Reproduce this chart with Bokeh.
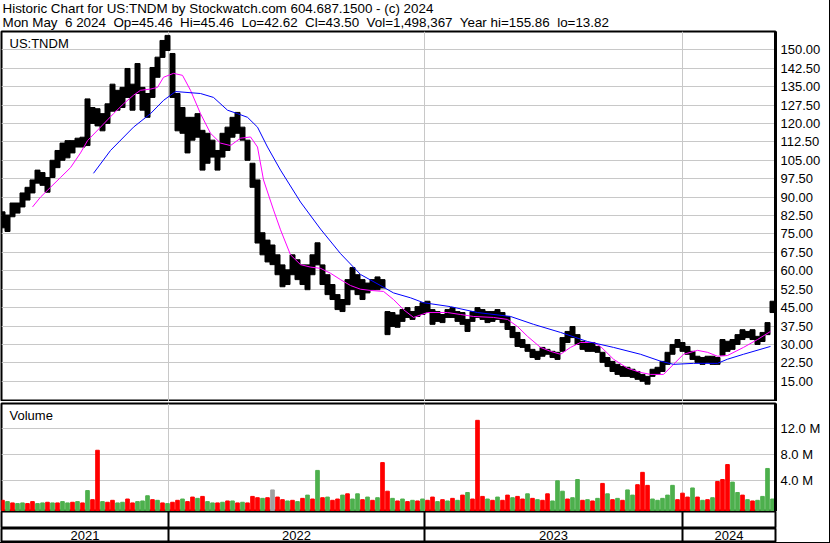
import numpy as np
from bokeh.plotting import figure
from bokeh.layouts import column
from bokeh.models import Range1d, FixedTicker, NumeralTickFormatter, Label, ColumnDataSource, Span
from bokeh.core.properties import value
from bokeh.embed import file_html
from bokeh.resources import INLINE

# ---------------- data ----------------
symbol = "US:TNDM"
header1 = "Historic Chart for US:TNDM by Stockwatch.com 604.687.1500 - (c) 2024"
header2 = "Mon May  6 2024  Op=45.46  Hi=45.46  Lo=42.62  Cl=43.50  Vol=1,498,367  Year hi=155.86  lo=13.82"

years = ["2021", "2022", "2023", "2024"]
year_start = [166, 422, 680]          # trading-day index where 2022, 2023, 2024 begin
first_day = -1                        # left edge of the time axis (trading days)
last_day = 773                        # right edge of the time axis (trading days)
bar_step = 5                          # one bar per trading week

# weekly high / low (USD)
high = [84, 82.7, 87.6, 87.6, 91.7, 94, 97, 101, 100, 98,
        105, 109, 112, 113, 113, 114, 114.4, 130, 126.5, 126,
        124, 128, 136, 133.5, 134.7, 142.4, 136, 144.4, 134.7, 132.2,
        142.8, 147, 153.8, 155.86, 148.5, 132.2, 126.5, 122.5, 122.5, 124,
        117.2, 116, 113.2, 109, 116, 118.5, 122.5, 124.5, 118.5, 113.2,
        103.8, 97, 75.5, 72.5, 70.5, 66.5, 62.4, 60.4, 66.5, 64.5,
        62.4, 62.4, 66.5, 71.4, 62.4, 58.4, 54.4, 50.3, 48.3, 56.4,
        61.3, 58.4, 56.4, 55, 56.4, 57.5, 56.4, 43.4, 43, 42,
        44.2, 45, 43.4, 45.4, 47, 47.6, 44.2, 43.4, 42.2, 44.2,
        45, 43.4, 43, 40.2, 43.4, 45, 44.2, 43.4, 43.4, 44.2,
        43, 41.4, 37.3, 34.9, 32, 30, 28, 27.2, 28.8, 28,
        27.2, 26.8, 32.8, 35.3, 37.3, 34, 31.3, 30.8, 30.8, 29.2,
        26.8, 24.7, 23.1, 21.9, 21, 20.7, 19.9, 19, 17.8, 17,
        19.9, 20.7, 23.1, 26.8, 30, 32, 30.8, 29.2, 27.2, 25.2,
        24.7, 25.2, 25.2, 24.7, 32, 31.3, 32, 34, 36, 35.3,
        36, 33.3, 34.9, 38.9, 47.6]
low = [77.5, 76, 82, 83.5, 86, 88.8, 91.7, 95.7, 94.8, 92,
       98, 102, 105, 106, 108, 110.4, 110.4, 111, 120, 119,
       117, 120, 125, 125.4, 126.5, 130.6, 125.4, 132.2, 125.4, 122.5,
       130.6, 138.8, 146.9, 149.7, 130.6, 117, 116, 108, 113.2, 114.4,
       101, 103.8, 106.3, 101, 106.3, 109, 114.4, 116, 113.2, 105,
       94, 71.3, 66.5, 63.6, 62.5, 58.4, 53.5, 54.4, 58.4, 56.4,
       54.4, 52.3, 58.4, 62.4, 54.4, 50.3, 48.3, 44.2, 43.4, 46.2,
       52.3, 50.3, 48.3, 51, 52.3, 52.3, 53, 34, 37.3, 37,
       39.4, 41, 40.2, 41.4, 42.2, 43, 38.2, 39.4, 38.9, 41,
       41, 39.4, 38.2, 35.3, 39.4, 41, 40.2, 38.9, 39.4, 40.2,
       38.9, 36.1, 32.8, 29.2, 28.8, 27.2, 24.7, 23.9, 25.2, 26,
       24.7, 23.9, 27.2, 30.8, 32.8, 30, 28, 27.2, 27.2, 26.8,
       22.7, 21, 19, 17.8, 17, 17, 16.6, 15.8, 15, 13.82,
       17, 17.8, 19, 21.9, 26, 28.8, 27.2, 26, 23.9, 22.7,
       21.9, 22.7, 21.9, 21.9, 25.6, 27.2, 28, 30, 32, 32.8,
       32, 30, 31.2, 34, 43]

# volume (millions of shares) and direction: r = down, g = up, n = unchanged
volume = [1.0, 0.8, 0.6, 0.5, 0.6, 0.5, 0.8, 0.5, 0.6, 0.7,
          0.6, 0.6, 0.8, 0.6, 0.7, 0.8, 0.6, 2.5, 1.1, 8.7,
          0.8, 0.7, 1.0, 0.6, 0.7, 1.2, 0.6, 0.8, 0.9, 1.7,
          1.1, 1.0, 0.6, 0.5, 0.7, 1.0, 1.2, 0.8, 1.5, 1.3,
          1.6, 0.8, 0.6, 0.6, 0.7, 0.9, 0.9, 0.6, 0.7, 0.6,
          1.6, 1.4, 1.3, 1.4, 2.6, 1.5, 1.1, 0.9, 1.0, 0.8,
          1.3, 1.8, 1.2, 5.6, 1.4, 1.5, 1.0, 1.2, 1.8, 2.0,
          1.2, 2.0, 1.1, 1.5, 1.0, 1.4, 6.8, 2.4, 1.3, 0.9,
          1.2, 0.8, 1.0, 0.9, 1.2, 1.0, 1.5, 0.8, 1.1, 0.9,
          1.3, 1.0, 1.8, 2.2, 1.2, 13.3, 1.6, 1.2, 1.0, 1.5,
          1.0, 1.8, 1.4, 1.6, 1.2, 2.0, 1.3, 1.1, 1.0, 2.0,
          0.9, 4.0, 2.4, 1.2, 1.4, 4.2, 1.0, 1.1, 0.9, 1.3,
          3.6, 2.0, 1.1, 1.3, 1.0, 2.6, 1.8, 3.4, 5.3, 3.3,
          1.2, 1.0, 1.3, 1.8, 3.3, 1.1, 2.1, 1.5, 2.9, 1.5,
          1.0, 1.1, 1.4, 3.9, 4.2, 6.5, 3.8, 2.2, 1.8, 1.1,
          0.9, 1.0, 1.6, 5.9, 1.2]
vol_dir = ("rgrggrrggr" "grggrgrgrr" "grrggrrggg" "rgrgrrgrrg"
           "rggrgrgrgr" "rrgrnrrgrg" "rgrgrgrrgr" "ggrgrgrrgr"
           "grgrgrrgrg" "rgrgrrrgrg" "rrgrrgrgrr" "gggrggrgrg"
           "rgrgrggrrr" "gggggrrrgr" "grgrrrggrg" "rggggr")

# short (magenta) moving average: trading-day index, value
ma_short_day = [30, 38, 48, 58, 68, 78, 85, 98, 111, 121, 131, 138, 148, 155, 161,
                171, 180, 188, 198, 208, 218, 228, 238, 248, 255, 261, 271, 278, 288,
                298, 308, 318, 328, 338, 348, 358, 368, 381, 391, 401, 411, 425, 445,
                458, 471, 491, 505, 515, 525, 538, 548, 558, 568, 578, 591, 598, 611,
                625, 638, 648, 661, 671, 681, 695, 705, 715, 725, 741, 755, 768]
ma_short = [86, 90, 94, 98, 102, 108, 113, 118.5, 124, 128, 131.5, 133.5, 134, 134.7, 138.8,
            140.4, 139.6, 133.5, 124, 116, 112, 111, 114, 114.5, 110.4, 97, 84.8, 76.7, 66.5,
            62.5, 61.5, 61, 59, 56.4, 54, 52.5, 52, 51.6, 48.3, 44.2, 41, 43, 43,
            42.2, 41.4, 41, 40.2, 37.3, 33.3, 28.8, 27.2, 26, 28.8, 30.8, 30.8, 29.2, 24,
            20.3, 18.6, 17.8, 17.8, 21.9, 26, 27.6, 26.8, 25.2, 25.5, 28.8, 32, 35.3]

# long (blue) moving average: trading-day index, value
ma_long_day = [91, 108, 131, 148, 161, 173, 198, 211, 225, 235, 245, 255, 265, 278,
               298, 318, 338, 358, 378, 391, 408, 421, 448, 475, 508, 531, 558, 585,
               611, 638, 658, 671, 691, 715, 725, 741, 768]
ma_long = [99.7, 109, 118.5, 124, 129.4, 133, 132.2, 130.6, 125.4, 124, 122.5, 118.5, 110.4, 101,
           88, 77, 67, 58.5, 54, 51, 49, 47, 45.4, 43, 41.4, 38.2, 34.9, 31.2,
           28.8, 26, 23.2, 21.9, 22.3, 22.3, 24, 26, 29.2]

price_ticks = [15, 22.5, 30, 37.5, 45, 52.5, 60, 67.5, 75, 82.5, 90, 97.5, 105,
               112.5, 120, 127.5, 135, 142.5, 150]
price_lim = (6.77, 157.45)
vol_ticks = [4, 8, 12]
vol_tick_labels = {4: "4.0 M", 8: "8.0 M", 12: "12.0 M"}
vol_lim = (-0.72, 15.89)

# ---------------- styling ----------------
FONT = "Liberation Sans"
FS = "13px"
W = 829
AXIS_W = 54
GRID = "#c8c8c8"
colour_map = {"r": "#ff0000", "g": "#4db04d", "n": "#a0a0a0"}

bar_day = [i * bar_step for i in range(len(high))]
x_range = Range1d(first_day, last_day)


def base_fig(height, y_range, right_axis=True, **kw):
    f = figure(width=W, height=height, x_range=x_range, y_range=y_range,
               output_backend="svg", toolbar_location=None,
               x_axis_location=None,
               y_axis_location="right" if right_axis else None,
               min_border_left=1, min_border_right=AXIS_W,
               outline_line_color="black", outline_line_width=2,
               background_fill_color="white", border_fill_color="white", **kw)
    f.xgrid.ticker = FixedTicker(ticks=year_start)
    f.xgrid.grid_line_color = GRID
    if right_axis:
        ax = f.yaxis[0]
        ax.axis_line_width = 3
        ax.axis_line_color = "black"
        ax.major_tick_line_color = None
        ax.minor_tick_line_color = None
        ax.major_tick_out = 0
        ax.major_tick_in = 0
        ax.major_label_standoff = 5
        ax.major_label_text_font = FONT
        ax.major_label_text_font_size = FS
        ax.major_label_text_color = "black"
        f.ygrid.grid_line_color = GRID
    else:
        f.xgrid.visible = False
        f.ygrid.visible = False
        for ys in year_start:
            f.add_layout(Span(location=ys, dimension="height", line_color="black", line_width=2))
    return f


# ---------------- header ----------------
hdr = figure(width=W, height=30, x_range=Range1d(0, 1), y_range=Range1d(0, 1),
             output_backend="svg", toolbar_location=None,
             x_axis_location=None, y_axis_location=None,
             min_border_left=0, min_border_right=0, min_border_top=0, min_border_bottom=0,
             outline_line_color=None, background_fill_color="white", border_fill_color="white")
hdr.xgrid.visible = False
hdr.ygrid.visible = False
for txt, yy in [(header1, 0.72), (header2, 0.27)]:
    hdr.add_layout(Label(x=0, y=yy, x_offset=1, text=txt.replace("  ", "\u00a0 "),
                         text_font=FONT, text_font_size="13.4px",
                         text_color="black", text_baseline="middle", text_align="left"))

# ---------------- price panel ----------------
p = base_fig(371, Range1d(*price_lim), min_border_top=1, min_border_bottom=0)
p.yaxis.ticker = FixedTicker(ticks=price_ticks)
p.yaxis.formatter = NumeralTickFormatter(format="0.00")
src = ColumnDataSource(dict(x=bar_day, hi=high, lo=low))
p.vbar(x="x", bottom="lo", top="hi", width=bar_step, source=src, color="black")
p.line(ma_short_day, ma_short, line_color="#ff00ff", line_width=1)
p.line(ma_long_day, ma_long, line_color="#0000ff", line_width=1)
p.add_layout(Label(x=first_day, y=price_lim[1], x_offset=8, y_offset=-4, text=symbol,
                   text_font=FONT, text_font_size=FS, text_color="black",
                   text_baseline="top", text_align="left"))

# ---------------- volume panel ----------------
v = base_fig(110, Range1d(*vol_lim), min_border_top=2, min_border_bottom=0)
v.yaxis.ticker = FixedTicker(ticks=vol_ticks)
v.yaxis.major_label_overrides = vol_tick_labels
vsrc = ColumnDataSource(dict(x=bar_day, top=volume,
                             c=[colour_map[d] for d in vol_dir]))
v.vbar(x="x", bottom=vol_lim[0], top="top", width=3.6, source=vsrc, color="c")
v.add_layout(Label(x=first_day, y=vol_lim[1], x_offset=8, y_offset=-4, text="Volume",
                   text_font=FONT, text_font_size=FS, text_color="black",
                   text_baseline="top", text_align="left"))

# ---------------- month strip (empty) and year strip ----------------
m = base_fig(17, Range1d(0, 1), right_axis=False, min_border_top=0, min_border_bottom=0)
yr = base_fig(14, Range1d(0, 1), right_axis=False, min_border_top=0, min_border_bottom=0)
bounds = [first_day] + year_start + [last_day]
centers = [(a + b) / 2 for a, b in zip(bounds[:-1], bounds[1:])]
yr.text(x=centers, y=[0.5] * len(years), text=years, text_font=value(FONT),
        text_font_size=FS, text_color="black", text_align="center", text_baseline="middle")

layout = column(hdr, p, v, m, yr, spacing=0,
                styles={"border-right": "1px solid black", "border-bottom": "1px solid black"})

open("out.html", "w").write(file_html(layout, INLINE))
